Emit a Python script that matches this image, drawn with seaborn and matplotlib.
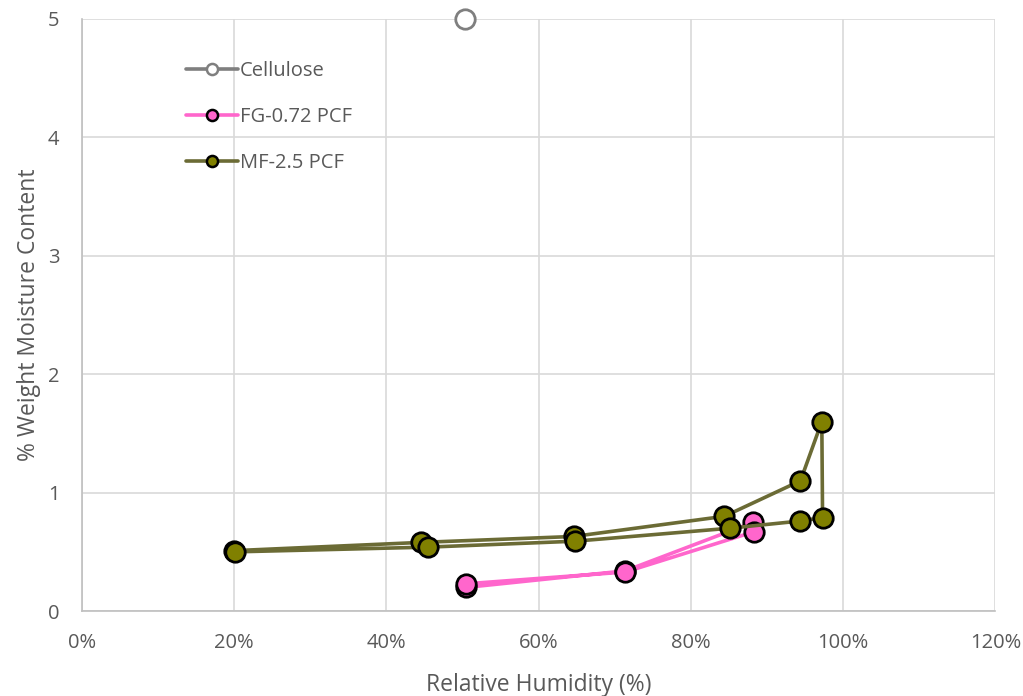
import matplotlib
matplotlib.use("Agg")
import matplotlib.pyplot as plt
from matplotlib.ticker import FuncFormatter, MultipleLocator
import seaborn as sns
import pandas as pd

# Sorption data: relative humidity (%) vs. % weight moisture content
cellulose_rh = [50.3]
cellulose_mc = [5.0]

fg_rh = [50.5, 71.4, 88.2, 88.3, 71.4, 50.4]
fg_mc = [0.20, 0.34, 0.75, 0.67, 0.33, 0.23]

mf_rh = [20.0, 44.6, 64.6, 84.4, 94.4, 97.2, 97.3, 94.3, 85.2, 64.8, 45.5, 20.1]
mf_mc = [0.51, 0.58, 0.63, 0.80, 1.10, 1.60, 0.79, 0.76, 0.70, 0.59, 0.54, 0.50]

series = [
    ("Cellulose", cellulose_rh, cellulose_mc, "#7f7f7f", "white", "#7f7f7f"),
    ("FG-0.72 PCF", fg_rh, fg_mc, "#ff66cc", "#ff66cc", "black"),
    ("MF-2.5 PCF", mf_rh, mf_mc, "#6b6b35", "#808000", "black"),
]

sns.set_theme(style="white")
plt.rcParams["font.family"] = ["Open Sans", "DejaVu Sans"]

fig = plt.figure(figsize=(10.23, 6.96), dpi=100)
ax = fig.add_axes([0.080, 0.122, 0.893, 0.851])

for name, rh, mc, lc, fc, ec in series:
    df = pd.DataFrame({"rh": rh, "mc": mc})
    sns.lineplot(data=df, x="rh", y="mc", sort=False, estimator=None,
                 color=lc, linewidth=2.6, marker="o", markersize=14,
                 markerfacecolor=fc, markeredgecolor=ec, markeredgewidth=2.0,
                 label=name, ax=ax, clip_on=False, zorder=3)

ax.set_xlim(0, 120)
ax.set_ylim(0, 5)
ax.xaxis.set_major_locator(MultipleLocator(20))
ax.yaxis.set_major_locator(MultipleLocator(1))
ax.xaxis.set_major_formatter(FuncFormatter(lambda v, p: f"{v:.0f}%"))

ax.grid(True, color="#d9d9d9", linewidth=1.2)
ax.set_axisbelow(True)
for side in ("top", "right"):
    ax.spines[side].set_visible(False)
for side in ("left", "bottom"):
    ax.spines[side].set_color("#bfbfbf")
    ax.spines[side].set_linewidth(1.2)

ax.tick_params(axis="x", colors="#595959", labelsize=14.5, length=0, pad=16)
ax.tick_params(axis="y", colors="#595959", labelsize=14.5, length=0, pad=16)
ax.set_xlabel("Relative Humidity (%)", color="#595959", fontsize=16.5, labelpad=14)
ax.set_ylabel("% Weight Moisture Content", color="#595959", fontsize=16.5, labelpad=5)

leg = ax.legend(loc="upper left", bbox_to_anchor=(0.105, 0.943), frameon=False,
                fontsize=14.5, handlelength=2.6, labelspacing=1.3,
                handletextpad=0.1, borderaxespad=0)
for txt in leg.get_texts():
    txt.set_color("#595959")
for h in leg.get_lines():
    h.set_markersize(8)
    h.set_markeredgewidth(1.8)

fig.savefig("out.png", dpi=100)
